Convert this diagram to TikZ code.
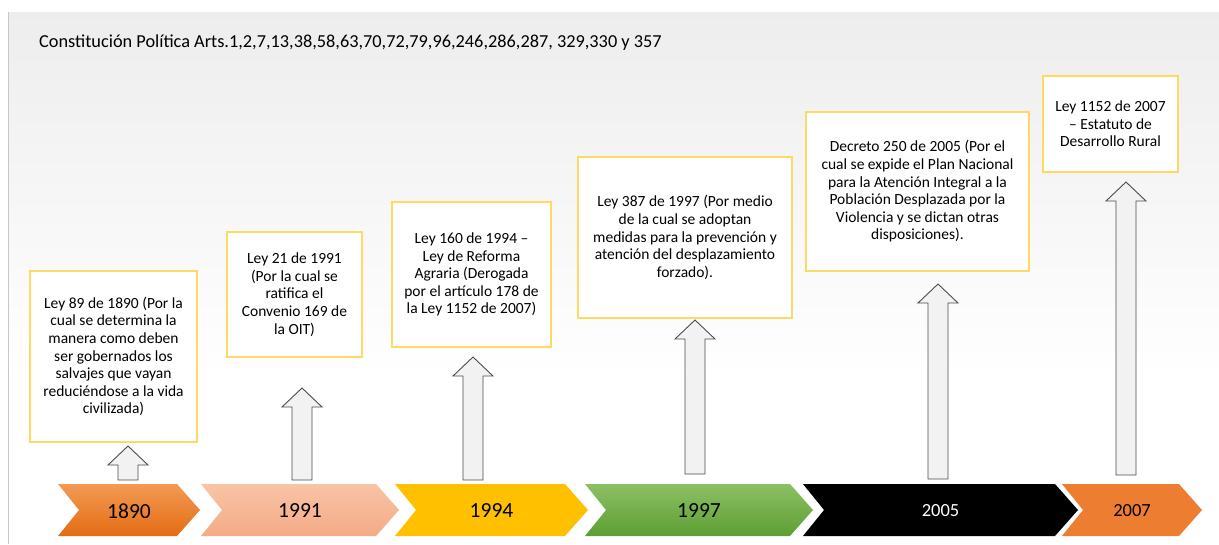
\documentclass[tikz,border=0pt]{standalone}
\usepackage{fontspec}
\setmainfont{Carlito}
\definecolor{boxline}{HTML}{FFD966}
\definecolor{arrowfill}{HTML}{F2F2F2}
\definecolor{top1890}{HTML}{F39A55}\definecolor{bot1890}{HTML}{E46C12}
\definecolor{top1991}{HTML}{F9C4A6}\definecolor{bot1991}{HTML}{F4AA86}
\definecolor{top1994}{HTML}{FFC000}\definecolor{bot1994}{HTML}{FFC000}
\definecolor{top1997}{HTML}{8CC064}\definecolor{bot1997}{HTML}{5E9E34}
\definecolor{top2005}{HTML}{000000}\definecolor{bot2005}{HTML}{000000}
\definecolor{top2007}{HTML}{ED7D31}\definecolor{bot2007}{HTML}{ED7D31}
\tikzset{
  infobox/.style={draw=boxline,line width=1.5pt,fill=white,align=center,
    inner sep=2pt,font=\fontsize{15.5}{17.6}\selectfont},
  yearlbl/.style={font=\fontsize{21.5}{24}\selectfont,inner sep=0pt},
  blockup/.style={draw=black!70,fill=arrowfill,line width=0.9pt,line join=miter}
}
\begin{document}
\begin{tikzpicture}[x=1pt,y=-1pt]
\useasboundingbox (0,0) rectangle (1219,544);
% background
\fill[white] (0,0) rectangle (1219,544);
\shade[top color=black!7,bottom color=white] (8,12) rectangle (1219,380);
\draw[black!22,line width=1pt] (8,12) -- (8,544);
\node[anchor=west,inner sep=0pt,font=\fontsize{18.3}{20}\selectfont] (titulo) at (39,43)
  {Constitución Política Arts.1,2,7,13,38,58,63,70,72,79,96,246,286,287, 329,330 y 357};
% chevrons
\foreach \xa/\xb/\yr/\tc/\fs in {58/200/1890/black/21.5,201/399/1991/black/21.5,395/588/1994/black/21.5,
    585/813/1997/black/21.5,803/1078/2005/white/18.5,1062/1202/2007/black/18.5}{
  \shade[top color=top\yr,bottom color=bot\yr] (\xa,484) -- (\xb-23,484) -- (\xb,510)
    -- (\xb-23,536) -- (\xa,536) -- (\xa+21,510) -- cycle;
  \node[yearlbl,text=\tc,font=\fontsize{\fs}{24}\selectfont] (y\yr) at ({(\xa+\xb)/2},511) {\yr};
}
% arrows
\foreach \x/\yb/\yt in {128/480/446,302/480/388,473/480/357,695/474/320,938/479/284,1126/475/182}{
  \draw[blockup] (\x-10,\yb) -- (\x-10,\yt+19) -- (\x-20,\yt+19) -- (\x,\yt)
    -- (\x+20,\yt+19) -- (\x+10,\yt+19) -- (\x+10,\yb) -- cycle;
}
% boxes
\node[infobox,minimum width=167pt,minimum height=171pt] (b1890) at (113.5,356.5)
  {Ley 89 de 1890 (Por la\\cual se determina la\\manera como deben\\ser gobernados los\\salvajes que vayan\\reduciéndose a la vida\\civilizada)};
\node[infobox,minimum width=135pt,minimum height=125pt] (b1991) at (294.5,294.5)
  {Ley 21 de 1991\\(Por la cual se\\ratifica el\\Convenio 169 de\\la OIT)};
\node[infobox,minimum width=159pt,minimum height=145pt] (b1994) at (471.5,274.5)
  {Ley 160 de 1994 –\\Ley de Reforma\\Agraria (Derogada\\por el artículo 178 de\\la Ley 1152 de 2007)};
\node[infobox,minimum width=214pt,minimum height=161pt] (b1997) at (685,237.5)
  {Ley 387 de 1997 (Por medio\\de la cual se adoptan\\medidas para la prevención y\\atención del desplazamiento\\forzado).};
\node[infobox,minimum width=223pt,minimum height=159pt] (b2005) at (917.5,191.5)
  {Decreto 250 de 2005 (Por el\\cual se expide el Plan Nacional\\para la Atención Integral a la\\Población Desplazada por la\\Violencia y se dictan otras\\disposiciones).};
\node[infobox,minimum width=135pt,minimum height=96pt] (b2007) at (1110.5,124)
  {Ley 1152 de 2007\\– Estatuto de\\Desarrollo Rural};
\end{tikzpicture}
\end{document}
